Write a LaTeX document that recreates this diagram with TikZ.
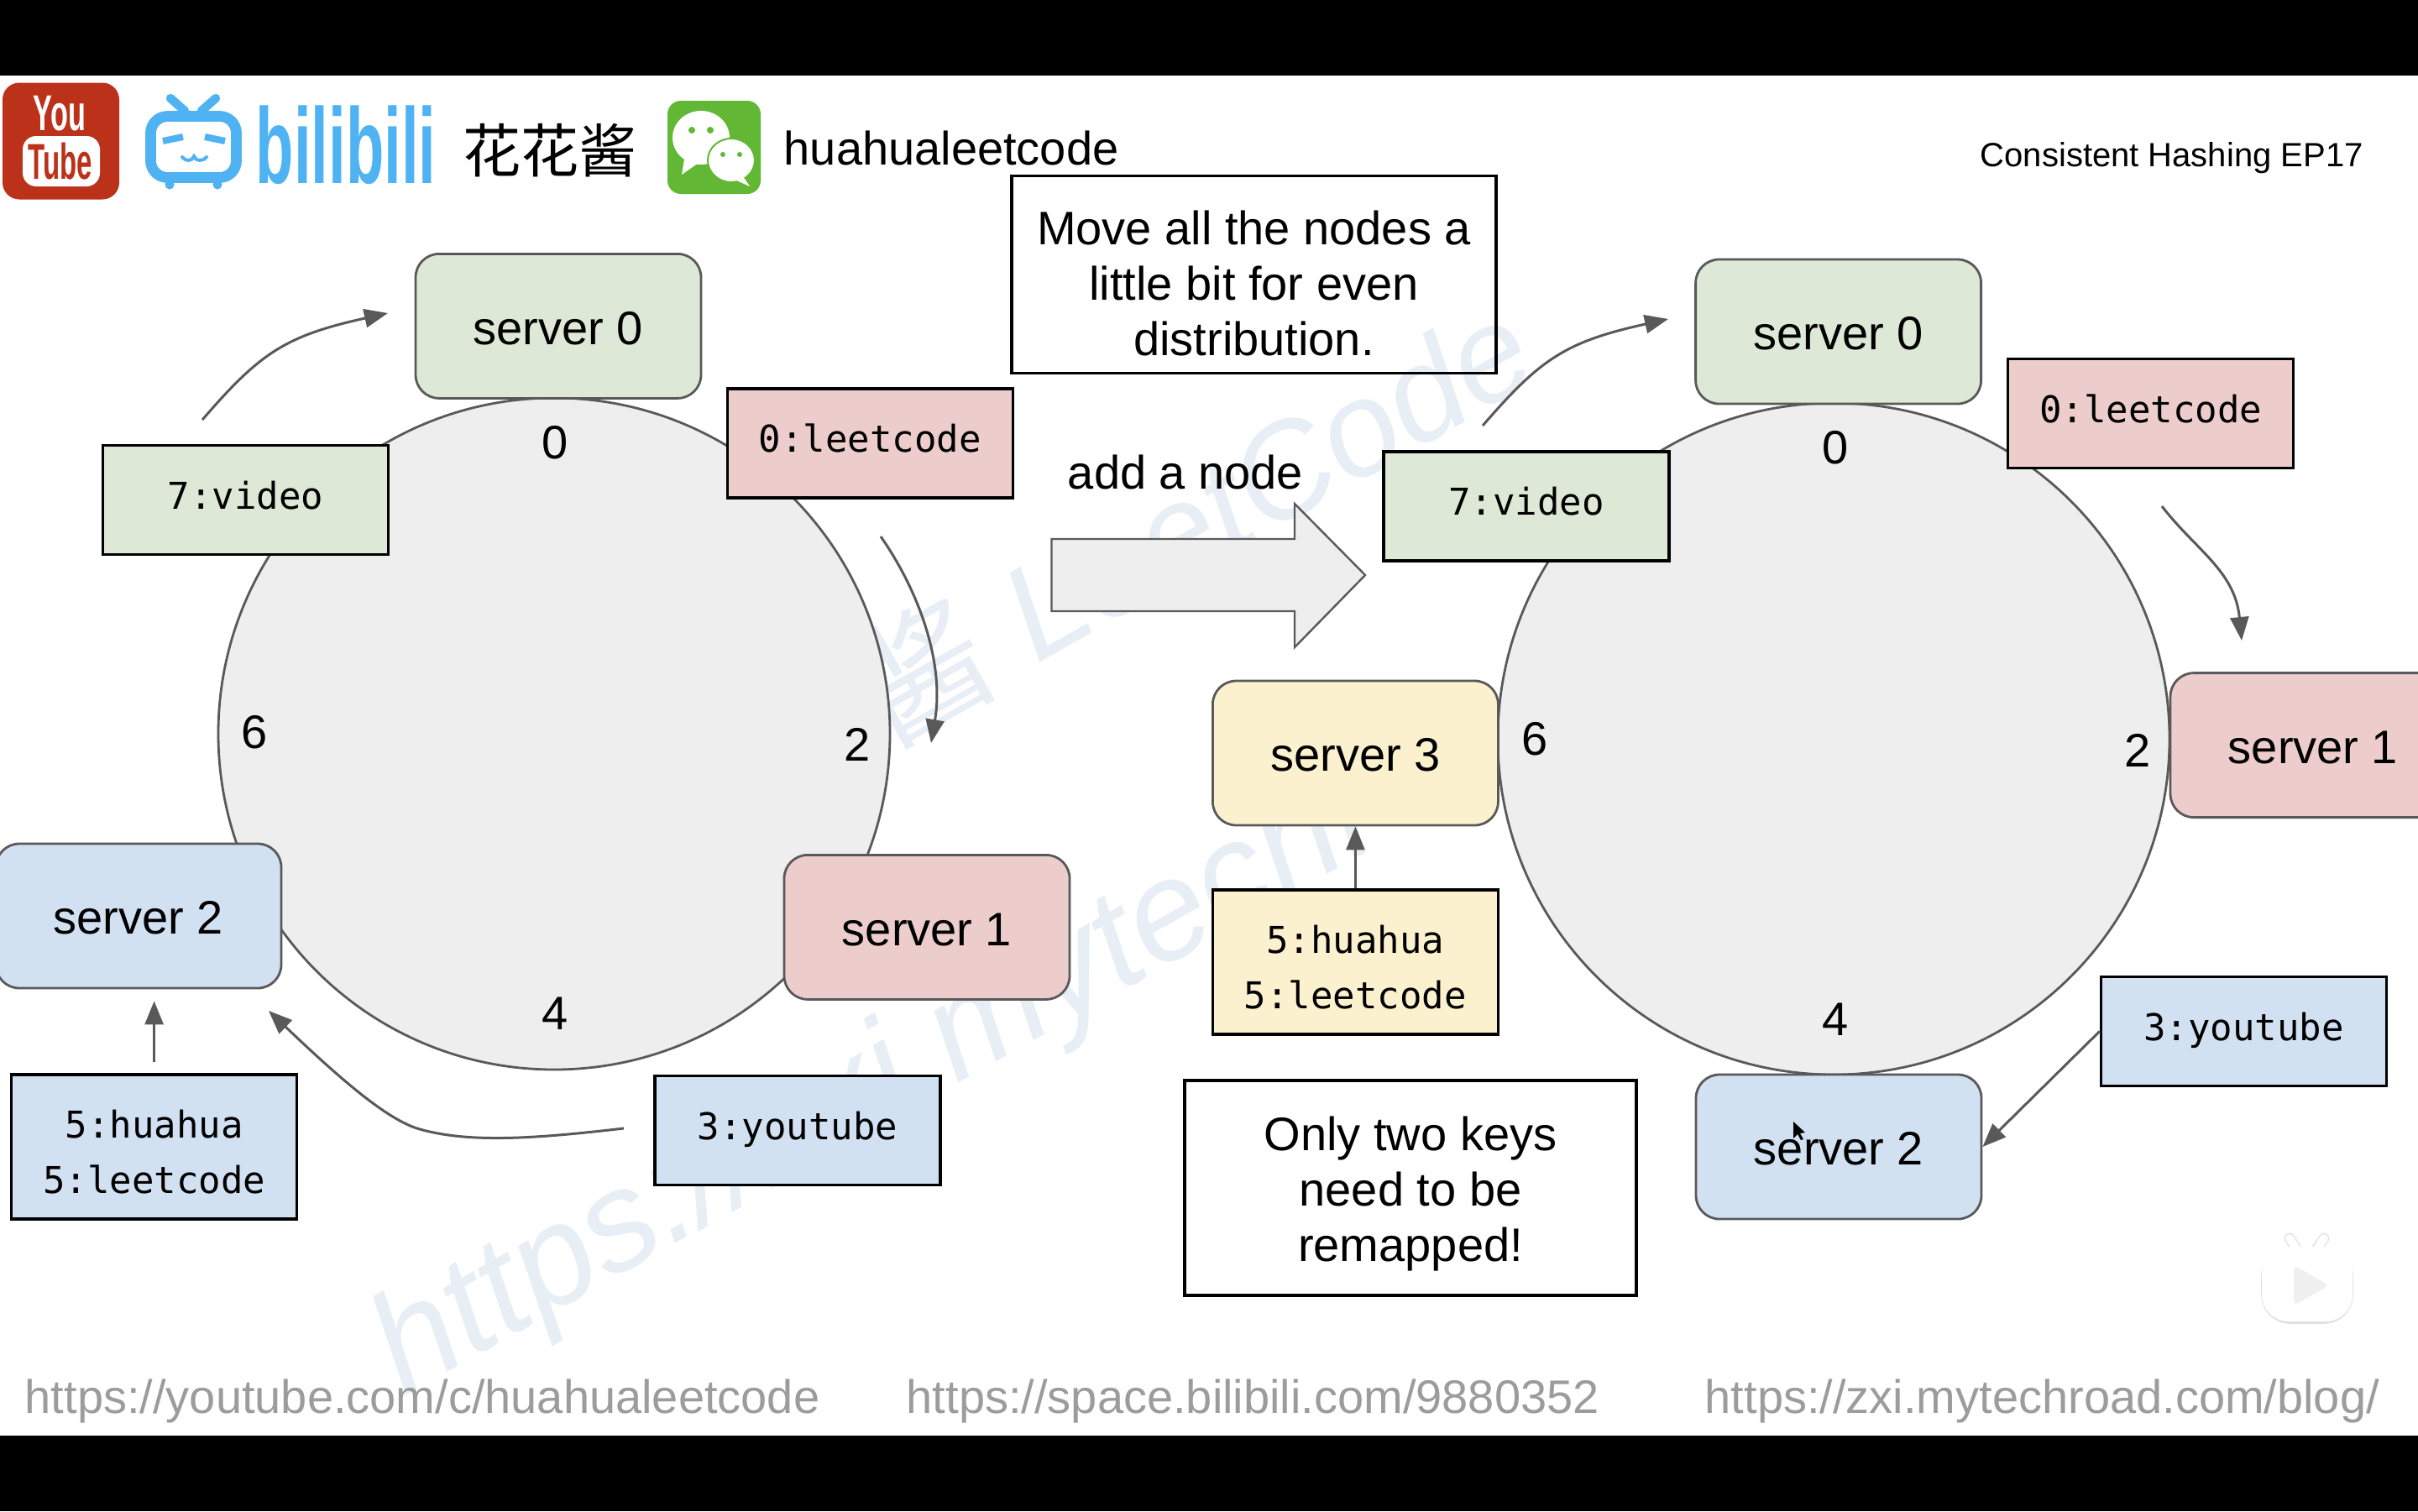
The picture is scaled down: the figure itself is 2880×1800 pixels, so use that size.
\documentclass[tikz,border=0pt]{standalone}
\usepackage{amsmath, amssymb}
\usepackage{fontspec}
\setmainfont{Liberation Sans}
\newfontfamily\keyfont{DejaVu Sans Mono}
\newfontfamily\cjk{Noto Sans CJK SC}
\usepackage{tikz}
\usetikzlibrary{arrows.meta, positioning}

\definecolor{ringgray}{HTML}{EEEEEE}
\definecolor{edgegray}{HTML}{595959}
\definecolor{srvgreen}{HTML}{DEE8D6}
\definecolor{srvred}{HTML}{ECCDCC}
\definecolor{srvblue}{HTML}{D2E1F2}
\definecolor{srvyellow}{HTML}{FCF1CF}
\definecolor{urlgray}{HTML}{9C9C9C}
\definecolor{markblue}{HTML}{E8EEF5}
\definecolor{ytred}{HTML}{BC3119}
\definecolor{bilblue}{HTML}{4FB3F3}
\definecolor{wxgreen}{HTML}{62B834}

\begin{document}
\begin{tikzpicture}[
                x=0.25pt, y=-0.25pt,
                node distance=100pt,
                >={Triangle[length=7pt, width=5.5pt]},
                ring/.style={circle, draw=edgegray, fill=ringgray, line width=0.7pt, minimum size=200pt, inner sep=0pt},
                server/.style={rectangle, rounded corners=7pt, draw=edgegray, line width=0.7pt, minimum width=85pt, minimum height=43pt, inner sep=0pt, text height=11pt, font=\fontsize{14}{16.5}\selectfont},
                keybox/.style={rectangle, draw=black, line width=0.8pt, minimum width=85pt, minimum height=43pt, inner sep=0pt, align=center, font=\keyfont\fontsize{11}{16.5}\selectfont},
                keyline/.style={keybox, minimum height=32.5pt, text depth=3pt},
                note/.style={rectangle, draw=black, line width=0.8pt, inner sep=0pt, align=center, font=\fontsize{14}{16.5}\selectfont},
                ringnum/.style={inner sep=0pt, font=\fontsize{14}{16.5}\selectfont},
                plain/.style={inner sep=0pt, font=\fontsize{14}{16.5}\selectfont},
                url/.style={inner sep=0pt, anchor=base west, text=urlgray, font=\fontsize{14}{16.5}\selectfont},
                watermark/.style={inner sep=0pt, anchor=base, rotate=29.5, text=markblue, font=\fontsize{40}{40}\selectfont\itshape},
                link/.style={->, draw=edgegray, line width=0.75pt}
            ]

            \clip (0,0) rectangle (2880,1800);
            \fill[white] (0,0) rectangle (2880,1800);
            \fill[black] (0,0) rectangle (2880,90);
            \fill[black] (0,1710) rectangle (2880,1800);

            % watermark
            \node[watermark] (markA) at (1308,750) {{\cjk 花花酱} LeetCode};
            \node[watermark, font=\fontsize{42}{42}\selectfont\itshape] (markB) at (1351,1172) {https://zxi.mytechroad.com};

            % header
            \node[fill=ytred, rounded corners=5pt, minimum width=34.75pt, minimum height=34.75pt, inner sep=0pt] (ytbadge) at (72.5,168) {};
            \node[fill=white, rounded corners=4pt, minimum width=23pt, minimum height=15pt, inner sep=0pt] (ytpill) at (73,192) {};
            \node[inner sep=0pt, text=white, font=\fontsize{15}{15}\selectfont\bfseries] (ytyou) at (71,135) {\scalebox{.57}[1]{You}};
            \node[inner sep=0pt, text=ytred, font=\fontsize{15}{15}\selectfont\bfseries] (yttube) at (72,192) {\scalebox{.55}[1]{Tube}};

            \draw[bilblue, line width=3.2pt, rounded corners=5pt] (179.5,138.5) rectangle (281.5,211.5);
            \draw[bilblue, line width=2.6pt, line cap=round] (203,117) -- (220,132) (257,117) -- (240,132);
            \fill[bilblue] (202,220) circle (5.5) (259,220) circle (5.5);
            \draw[bilblue, line width=2pt] (194,168) -- (218,163) (244,163) -- (268,168);
            \draw[bilblue, line width=1pt, line cap=round] (217,187) .. controls (222,193) and (229,192) .. (231,186) .. controls (233,192) and (241,193) .. (246,187);
            \node[inner sep=0pt, anchor=base west, text=bilblue, font=\fontsize{32}{32}\selectfont\bfseries] (bililogo) at (304,218) {\scalebox{.58}[1]{bilibili}};
            \node[inner sep=0pt, font=\cjk\fontsize{17.3}{20}\selectfont] (huahua) at (655,179) {花花酱};

            \node[fill=wxgreen, rounded corners=4pt, minimum width=27.75pt, minimum height=27.75pt, inner sep=0pt] (wxbadge) at (850.5,175.5) {};
            \fill[white] (835,164) ellipse (34 and 32);
            \fill[white] (815,190) -- (812,208) -- (832,194) -- cycle;
            \filldraw[white, draw=wxgreen, line width=0.5pt] (871,191) ellipse (28 and 26);
            \fill[white] (885,210) -- (893,222) -- (875,214) -- cycle;
            \fill[wxgreen] (824,155) circle (4) (846,155) circle (4) (861,184) circle (3) (881,184) circle (3);

            \node[plain, anchor=base west] (chan) at (933,196) {huahualeetcode};
            \node[inner sep=0pt, anchor=base west, font=\fontsize{10}{12}\selectfont] (title) at (2358,198) {Consistent Hashing EP17};

            % left ring
            \node[ring] (RL) at (660,874) {};
            \node[ringnum] (L0) [above of=RL, xshift=0.25pt, yshift=-13.25pt] {0};
            \node[ringnum] (L2) [right of=RL, xshift=-9.75pt, yshift=-3.25pt] {2};
            \node[ringnum] (L4) [below of=RL, xshift=0.25pt, yshift=16.75pt] {4};
            \node[ringnum] (L6) [left of=RL, xshift=10.75pt, yshift=0.5pt] {6};

            \node[server, fill=srvgreen] (S0L) [above of=RL, xshift=1.25pt, yshift=21.4pt] {server 0};
            \node[server, fill=srvred] (S1L) [below of=RL, xshift=111pt, yshift=42.4pt] {server 1};
            \node[server, fill=srvblue] (S2L) [below of=RL, xshift=-123.75pt, yshift=45.75pt] {server 2};

            \node[keyline, fill=srvred] (K0L) [above of=RL, xshift=94.1pt, yshift=-13.5pt] {0:leetcode};
            \node[keyline, fill=srvgreen] (K7L) [above of=RL, xshift=-91.9pt, yshift=-30.4pt] {7:video};
            \node[keyline, fill=srvblue] (K3L) [below of=RL, xshift=72.5pt, yshift=-18.1pt] {3:youtube};
            \node[keybox, fill=srvblue] (K5L) [below of=RL, xshift=-119.1pt, yshift=-23pt] {\rule{0pt}{11.3pt}5:huahua\\5:leetcode};

            % right ring
            \node[ring] (RR) at (2184,880) {};
            \node[ringnum] (R0) [above of=RR, xshift=0.5pt, yshift=-13.25pt] {0};
            \node[ringnum] (R2) [right of=RR, xshift=-9.5pt, yshift=-3.5pt] {2};
            \node[ringnum] (R4) [below of=RR, xshift=0.5pt, yshift=16.5pt] {4};
            \node[ringnum] (R6) [left of=RR, xshift=11pt] {6};

            \node[server, fill=srvgreen] (S0R) [above of=RR, xshift=1.4pt, yshift=21.25pt] {server 0};
            \node[server, fill=srvred] (S1R) [right of=RR, xshift=42.75pt, yshift=-1.9pt] {server 1};
            \node[server, fill=srvblue] (S2R) [below of=RR, xshift=1.5pt, yshift=-21.5pt] {server 2};
            \node[server, fill=srvyellow] (S3R) [left of=RR, xshift=-42.4pt, yshift=-4.25pt] {server 3};

            \node[keyline, fill=srvred] (K0R) [above of=RR, xshift=94.4pt, yshift=-3.1pt] {0:leetcode};
            \node[keyline, fill=srvgreen] (K7R) [above of=RR, xshift=-91.5pt, yshift=-30.75pt] {7:video};
            \node[keyline, fill=srvblue] (K3R) [below of=RR, xshift=122.1pt, yshift=12.9pt] {3:youtube};
            \node[keybox, fill=srvyellow] (K5R) [below of=S3R, yshift=37.75pt] {\rule{0pt}{11.3pt}5:huahua\\5:leetcode};

            % middle
            \node[note, minimum width=144.25pt, minimum height=58.6pt] (moveNote) at (1493.5,327) {\rule{0pt}{15.5pt}Move all the nodes a\\little bit for even\\distribution.};
            \node[note, minimum width=134.5pt, minimum height=64pt] (onlyNote) at (1680,1415) {\rule{0pt}{13.5pt}Only two keys\\need to be\\remapped!};
            \node[plain] (addNode) at (1412,562) {add a node};
            \filldraw[fill=ringgray, draw=edgegray, line width=0.6pt] (1252.5,642) -- (1542,642) -- (1542,600) -- (1626,685) -- (1542,771) -- (1542,728) -- (1252.5,728) -- cycle;

            % free ends of the curved arrows
            \coordinate (a7Ls) at (241,500);
            \coordinate (a7Le) at (462,373);
            \coordinate (a0Ls) at (1049,639);
            \coordinate (a0Le) at (1109,885);
            \coordinate (a3Ls) at (743,1344);
            \coordinate (a3Le) at (320,1204);
            \coordinate (a7Rs) at (1766,507);
            \coordinate (a7Re) at (1987,380);
            \coordinate (a0Rs) at (2575,603);
            \coordinate (a0Re) at (2670,763);

            \draw[link] (a7Ls) .. controls (310,420) and (340,400) .. (a7Le);
            \draw[link] (a0Ls) .. controls (1095,705) and (1125,790) .. (a0Le);
            \draw[link] (a3Ls) .. controls (640,1356) and (560,1362) .. (500,1345) .. controls (460,1334) and (400,1280) .. (a3Le);
            \draw[link, shorten <=3.25pt, shorten >=3.5pt] (K5L.north) -- (K5L.north |- S2L.south);
            \draw[link] (a7Rs) .. controls (1835,427) and (1865,407) .. (a7Re);
            \draw[link] (a0Rs) .. controls (2615,655) and (2662,680) .. (a0Re);
            \draw[link] (K5R.north) -- (S3R.south);
            \draw[link] (K3R.west) -- (S2R.east);

            % footer
            \node[url] (urlA) at (29,1683.5) {https://youtube.com/c/huahualeetcode};
            \node[url] (urlB) at (1079,1683.5) {https://space.bilibili.com/9880352};
            \node[url] (urlC) at (2030,1683.5) {https://zxi.mytechroad.com/blog/};

            % player badge and pointer
            \draw[black!10, line width=3.2pt, line cap=round] (2727,1475) -- (2735,1487) (2768,1475) -- (2760,1487);
            \draw[white, line width=2.4pt, line cap=round] (2727,1475) -- (2735,1487) (2768,1475) -- (2760,1487);
            \draw[black!12, line width=1.4pt, rounded corners=8pt] (2696,1488) rectangle (2800,1574);
            \fill[white, rounded corners=8pt] (2694,1485) rectangle (2802,1574);
            \filldraw[fill=black!6, draw=black!6, line width=1.5pt, line join=round] (2735,1512) -- (2768,1531) -- (2735,1550) -- cycle;
            \fill[black] (2136,1336) -- (2136,1356) -- (2141,1351) -- (2145,1358) -- (2148,1357) -- (2144,1350) -- (2150,1349) -- cycle;

        \end{tikzpicture}
\end{document}
